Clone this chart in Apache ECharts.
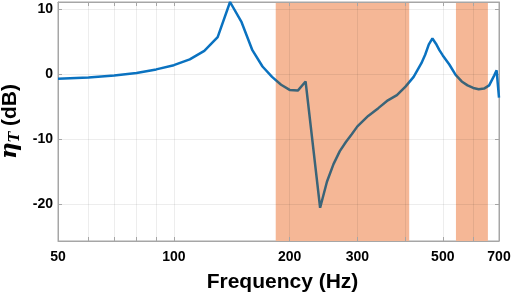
<!DOCTYPE html>
<html>
<head>
<meta charset="utf-8">
<script src="https://cdn.jsdelivr.net/npm/echarts@6/dist/echarts.min.js"></script>
<style>
  html, body { margin: 0; padding: 0; background: #fff; }
  #chart { width: 512px; height: 298px; }
</style>
</head>
<body>
<div id="chart"></div>
<script>
// frequency (Hz) and transmission gain (dB)
const freq = [50, 60, 70, 80, 90, 100, 110, 120, 130, 140, 150, 160, 170, 180, 190, 200, 210, 220,
  240, 250, 260, 270, 280, 290, 300, 320, 340, 360, 380, 400, 420, 440, 450, 460, 470, 480,
  490, 500, 520, 540, 560, 580, 600, 620, 640, 660, 680, 690, 700];
const gain = [-0.7, -0.5, -0.2, 0.2, 0.75, 1.4, 2.3, 3.6, 5.7, 11.1, 8.0, 3.7, 1.2, -0.4, -1.6, -2.4, -2.5, -1.1,
  -20.5, -16.5, -13.8, -11.8, -10.4, -9.2, -8.0, -6.4, -5.2, -4.0, -3.2, -1.9, -0.4, 1.7, 3.0, 4.6, 5.5, 4.7,
  3.7, 2.9, 1.5, -0.1, -1.1, -1.7, -2.1, -2.3, -2.2, -1.7, -0.2, 0.6, -3.6];

// shaded frequency bands (Hz)
const bands = [[184, 409], [541, 655]];

const xTicks = [50, 60, 70, 80, 90, 100, 200, 300, 400, 500, 600, 700];
const xLabels = [50, 100, 200, 300, 500, 700];
const yTicks = [-20, -10, 0, 10];

const BLUE = '#0a72c0';
const SLATE = '#3b6478';
const SHADE = '#f5b796';
const FONT = '"Liberation Sans", Arial, sans-serif';

const chart = echarts.init(document.getElementById('chart'));

// line colour changes where it runs over a band
const pieces = [];
let prev = 10;
bands.forEach(([a, b]) => {
  pieces.push({ gt: prev, lt: a, color: BLUE });
  pieces.push({ gte: a, lte: b, color: SLATE });
  prev = b;
});
pieces.push({ gt: prev, lte: 10000, color: BLUE });

const xAxisBase = {
  type: 'log',
  min: 50,
  max: 700,
  logBase: 10,
  axisLine: { onZero: false, lineStyle: { color: '#a6a6a6', width: 1 } },
  axisTick: { inside: true, length: 4, customValues: xTicks, lineStyle: { color: '#a6a6a6' } },
  splitLine: { show: false },
  minorTick: { show: false },
  z: 2
};

chart.setOption({
  animation: false,
  grid: {
    left: 58, right: 13, top: 2, bottom: 57,
    outerBoundsMode: 'none',
    show: true, borderColor: '#a6a6a6', borderWidth: 1
  },
  xAxis: [
    {
      ...xAxisBase,
      position: 'bottom',
      name: 'Frequency (Hz)',
      nameLocation: 'middle',
      nameGap: 31,
      nameTextStyle: { fontFamily: FONT, fontWeight: 'bold', fontSize: 21, color: '#000', padding: [0, 0, 0, 8] },
      axisLabel: { customValues: xLabels, margin: 9, fontFamily: FONT, fontWeight: 'bold', fontSize: 14, color: '#000' },
      splitLine: { show: true, lineStyle: { color: 'rgba(0,0,0,0.07)', width: 1 } }
    },
    {
      ...xAxisBase,
      position: 'top',
      axisLabel: { show: false }
    }
  ],
  yAxis: [
    {
      type: 'value',
      min: -25.6,
      max: 11.1,
      position: 'left',
      name: '{i|η}{s|T} (dB)',
      nameLocation: 'middle',
      nameRotate: 90,
      nameGap: 31,
      nameTextStyle: {
        fontFamily: FONT, fontWeight: 'bold', fontSize: 21, color: '#000',
        rich: {
          i: { fontFamily: '"DejaVu Serif", serif', fontStyle: 'italic', fontWeight: 'bold', fontSize: 23, color: '#000' },
          s: { fontFamily: '"DejaVu Serif", serif', fontStyle: 'italic', fontSize: 14, color: '#000', verticalAlign: 'bottom', padding: [8, 0, 0, 0] }
        }
      },
      axisLine: { show: true, onZero: false, lineStyle: { color: '#a6a6a6' } },
      axisTick: { show: true, inside: true, length: 4, customValues: yTicks, lineStyle: { color: '#a6a6a6' } },
      axisLabel: { customValues: yTicks, margin: 5, fontFamily: FONT, fontWeight: 'bold', fontSize: 14, color: '#000' },
      splitLine: { show: true, lineStyle: { color: 'rgba(0,0,0,0.07)', width: 1 } },
      z: 2
    },
    {
      type: 'value',
      min: -25.6,
      max: 11.1,
      position: 'right',
      axisLine: { show: true, onZero: false, lineStyle: { color: '#a6a6a6' } },
      axisTick: { show: true, inside: true, length: 4, customValues: yTicks, lineStyle: { color: '#a6a6a6' } },
      axisLabel: { show: false },
      splitLine: { show: false },
      z: 2
    }
  ],
  visualMap: {
    show: false,
    type: 'piecewise',
    dimension: 0,
    seriesIndex: 1,
    pieces: pieces,
    outOfRange: { color: BLUE }
  },
  series: [
    {
      type: 'line',
      data: [],
      z: 1,
      silent: true,
      markArea: {
        silent: true,
        itemStyle: { color: SHADE, opacity: 1 },
        data: bands.map(([a, b]) => [{ xAxis: a }, { xAxis: b }])
      }
    },
    {
      type: 'line',
      data: freq.map((f, i) => [f, gain[i]]),
      showSymbol: false,
      lineStyle: { width: 2.5 },
      z: 3
    }
  ]
});
</script>
</body>
</html>
